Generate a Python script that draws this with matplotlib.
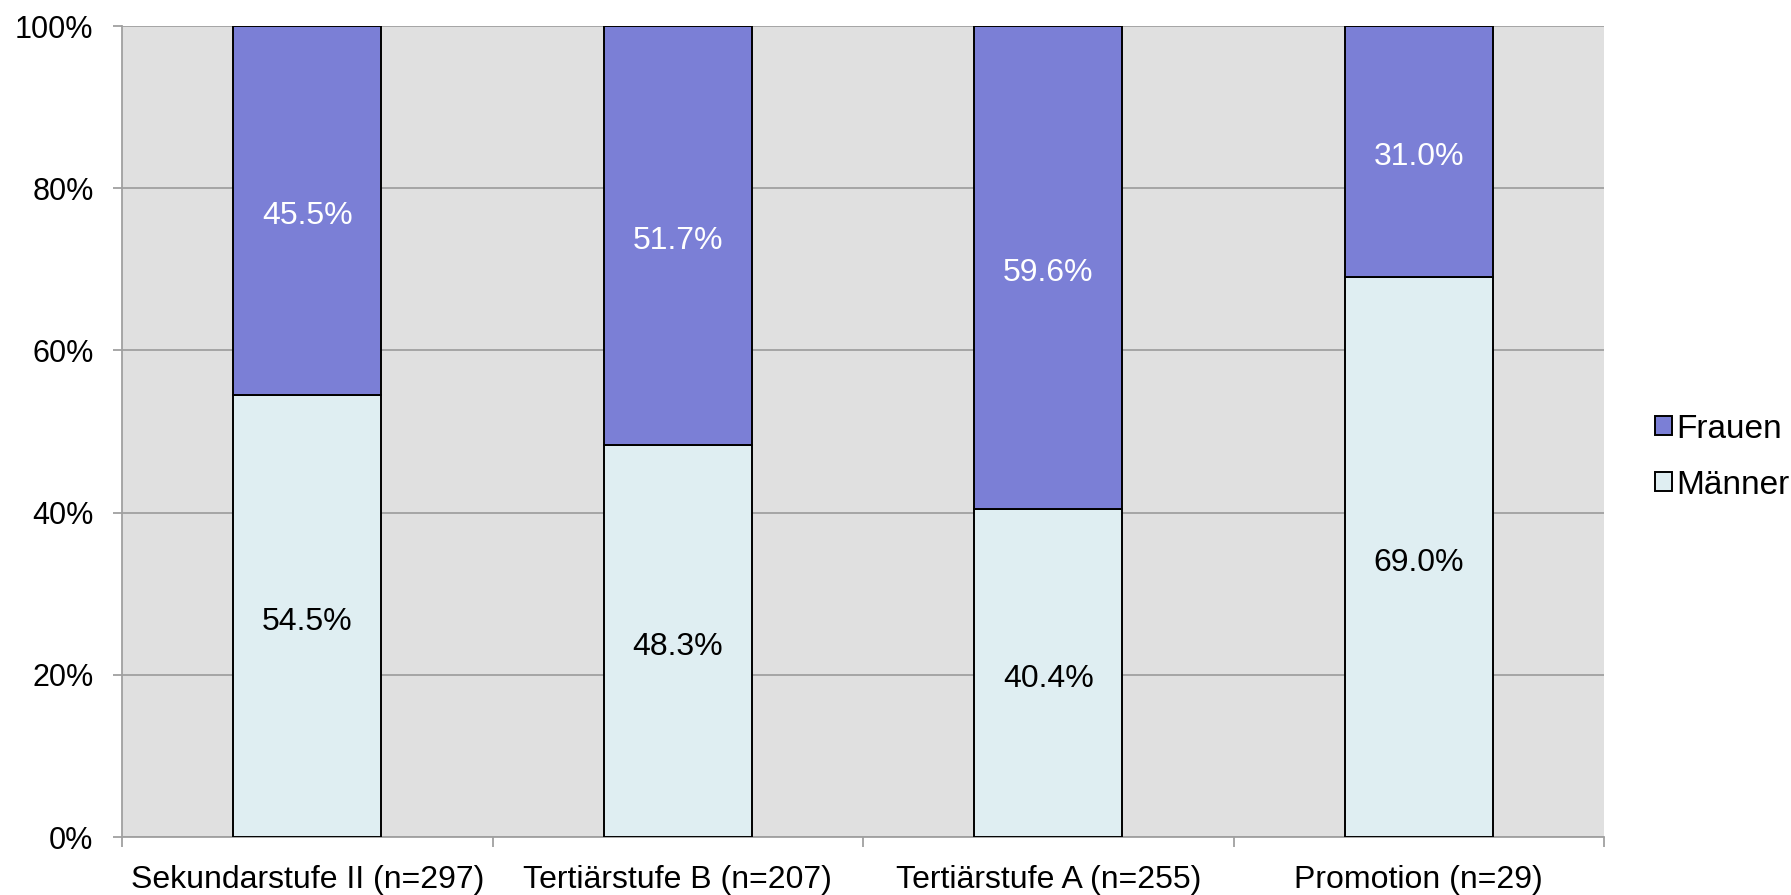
import numpy as np
import matplotlib
matplotlib.use('Agg')
from matplotlib import pyplot as plt
from matplotlib.patches import Patch

plt.rcParams['font.family'] = ['Liberation Sans', 'DejaVu Sans']

categories = ['Sekundarstufe II (n=297)', 'Tertiärstufe B (n=207)',
              'Tertiärstufe A (n=255)', 'Promotion (n=29)']
maenner = [54.5, 48.3, 40.4, 69.0]
frauen = [45.5, 51.7, 59.6, 31.0]

c_frauen = '#7b7fd6'
c_maenner = '#dfeef2'
c_grid = '#a0a0a0'

fig = plt.figure(figsize=(17.91, 8.951), dpi=100)
ax = fig.add_axes([122/1791, 1-837/895, (1604-122)/1791, (837-26)/895])
ax.set_facecolor('#e0e0e0')

x = np.arange(len(categories))
w = 0.4
ax.bar(x, maenner, w, color=c_maenner, edgecolor='black', linewidth=1.4, zorder=3)
ax.bar(x, frauen, w, bottom=maenner, color=c_frauen, edgecolor='black', linewidth=1.4, zorder=3)

# labels in the middle of each segment
for i in range(len(categories)):
    ax.annotate('%.1f%%' % maenner[i], (x[i], maenner[i]/2), xytext=(0, -4),
                textcoords='offset points', ha='center', va='center',
                fontsize=23, color='black', zorder=4)
    ax.annotate('%.1f%%' % frauen[i], (x[i], maenner[i] + frauen[i]/2), xytext=(0, -4),
                textcoords='offset points', ha='center', va='center',
                fontsize=23, color='white', zorder=4)

ax.set_xlim(-0.5, 3.5)
ax.set_ylim(0, 100)
ax.set_yticks(np.arange(0, 101, 20))
ax.set_yticklabels(['%d%%' % v for v in range(0, 101, 20)])
ax.yaxis.grid(True, color=c_grid, linewidth=1.3, zorder=1)
ax.tick_params(axis='y', length=6.5, width=1.3, color=c_grid, pad=14, labelsize=22)

ax.set_xticks(np.arange(-0.5, 3.6, 1.0))
ax.set_xticklabels([])
ax.set_xticks(x, minor=True)
ax.set_xticklabels(categories, minor=True)
ax.tick_params(axis='x', which='major', length=7, width=1.3, color=c_grid)
ax.tick_params(axis='x', which='minor', length=0, pad=20, labelsize=23)

for s in ['top', 'right']:
    ax.spines[s].set_visible(False)
for s in ['left', 'bottom']:
    ax.spines[s].set_color(c_grid)
    ax.spines[s].set_linewidth(1.3)

handles = [Patch(facecolor=c_frauen, edgecolor='black', linewidth=1.4),
           Patch(facecolor=c_maenner, edgecolor='black', linewidth=1.4)]
fig.legend(handles, ['Frauen', 'Männer'], loc='center left',
           bbox_to_anchor=(1655/1791, 1-457/895), frameon=False, fontsize=24,
           handlelength=0.5, handleheight=0.5, handletextpad=0.15,
           labelspacing=0.75, borderaxespad=0, borderpad=0)

fig.savefig('out.png', dpi=100)
